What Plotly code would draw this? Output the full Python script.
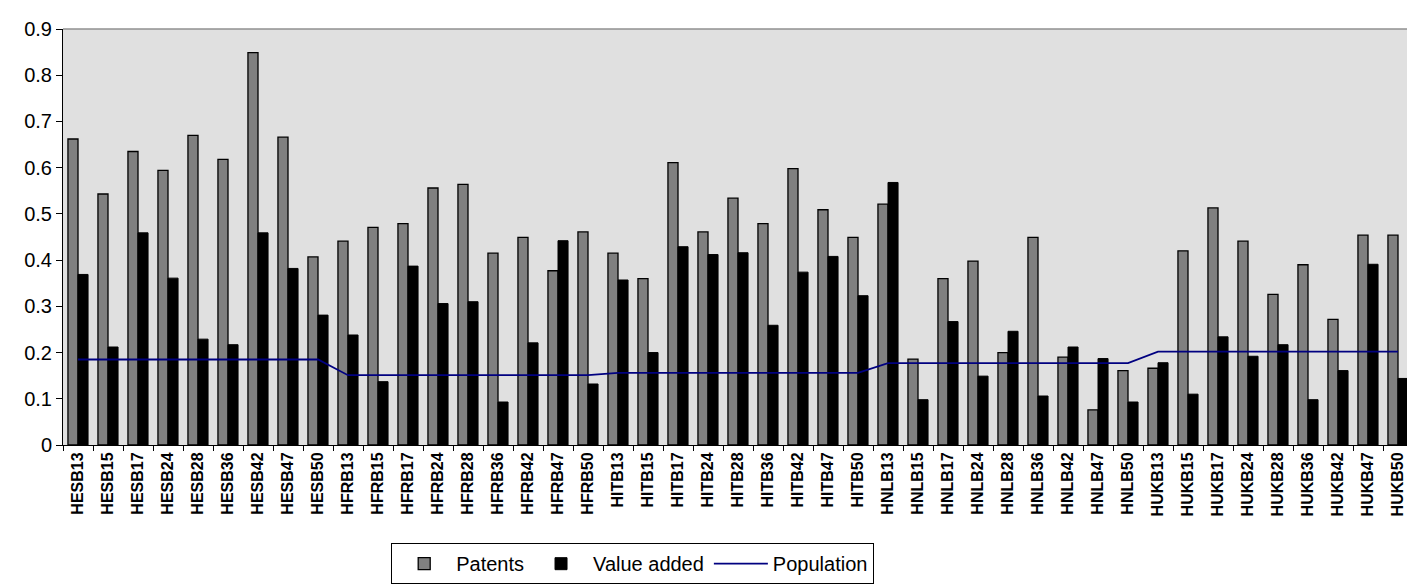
import plotly.graph_objects as go

categories = ["HESB13","HESB15","HESB17","HESB24","HESB28","HESB36","HESB42","HESB47","HESB50",
              "HFRB13","HFRB15","HFRB17","HFRB24","HFRB28","HFRB36","HFRB42","HFRB47","HFRB50",
              "HITB13","HITB15","HITB17","HITB24","HITB28","HITB36","HITB42","HITB47","HITB50",
              "HNLB13","HNLB15","HNLB17","HNLB24","HNLB28","HNLB36","HNLB42","HNLB47","HNLB50",
              "HUKB13","HUKB15","HUKB17","HUKB24","HUKB28","HUKB36","HUKB42","HUKB47","HUKB50"]

patents = [0.662,0.543,0.635,0.594,0.670,0.618,0.849,0.666,0.407,
           0.441,0.471,0.479,0.556,0.564,0.415,0.449,0.377,0.461,
           0.415,0.360,0.611,0.461,0.534,0.479,0.598,0.509,0.449,
           0.521,0.186,0.360,0.398,0.200,0.449,0.190,0.076,0.161,
           0.166,0.420,0.513,0.441,0.326,0.390,0.272,0.454,0.454]

value_added = [0.369,0.212,0.459,0.361,0.229,0.217,0.459,0.382,0.281,
               0.238,0.137,0.387,0.306,0.310,0.093,0.221,0.442,0.132,
               0.357,0.200,0.429,0.412,0.416,0.259,0.374,0.408,0.323,
               0.568,0.098,0.267,0.149,0.246,0.106,0.212,0.187,0.093,
               0.178,0.110,0.234,0.192,0.217,0.098,0.161,0.391,0.144]

population = [0.185]*9 + [0.151]*9 + [0.156]*9 + [0.177]*9 + [0.202]*9

y_ticks = [0, 0.1, 0.2, 0.3, 0.4, 0.5, 0.6, 0.7, 0.8, 0.9]
y_tick_labels = ["0", "0.1", "0.2", "0.3", "0.4", "0.5", "0.6", "0.7", "0.8", "0.9"]

FONT = "Liberation Sans, Arial, sans-serif"

fig = go.Figure()
fig.add_trace(go.Bar(x=categories, y=patents, name="Patents",
                     marker=dict(color="#808080", line=dict(color="black", width=1.3))))
fig.add_trace(go.Bar(x=categories, y=value_added, name="Value added",
                     marker=dict(color="black", line=dict(color="black", width=1))))
fig.add_trace(go.Scatter(x=categories, y=population, name="Population", mode="lines",
                         line=dict(color="#000080", width=1.8)))

fig.update_layout(
    width=1415, height=586,
    margin=dict(l=55, r=10, t=21, b=141),
    paper_bgcolor="white",
    plot_bgcolor="#E0E0E0",
    barmode="group",
    bargap=0.33,
    bargroupgap=0,
    font=dict(family=FONT, color="black"),
    showlegend=True,
    legend=dict(orientation="h", x=0.422, xanchor="center", y=-0.236, yanchor="top",
                bordercolor="black", borderwidth=1, bgcolor="white",
                font=dict(size=20, family=FONT),
                itemwidth=54, traceorder="normal"),
    xaxis=dict(type="category", tickangle=-90, tickson="boundaries",
               ticks="outside", ticklen=5, tickcolor="black",
               showline=True, linecolor="black", linewidth=1,
               showgrid=False, automargin=False,
               tickfont=dict(size=16, family=FONT, weight="bold")),
    yaxis=dict(range=[0, 0.9], tickvals=y_ticks, ticktext=y_tick_labels,
               ticks="outside", ticklen=6, tickcolor="black",
               showline=True, linecolor="black", linewidth=1,
               showgrid=False, zeroline=False, automargin=False,
               tickfont=dict(size=20, family=FONT)),
)

# gray frame on top and right of plot area
fig.add_shape(type="line", xref="paper", yref="paper", x0=0, x1=1, y0=1, y1=1,
              line=dict(color="#909090", width=1.5))
fig.add_shape(type="line", xref="paper", yref="paper", x0=1, x1=1, y0=0, y1=1,
              line=dict(color="#909090", width=1.5))

fig.write_html("out.html")
